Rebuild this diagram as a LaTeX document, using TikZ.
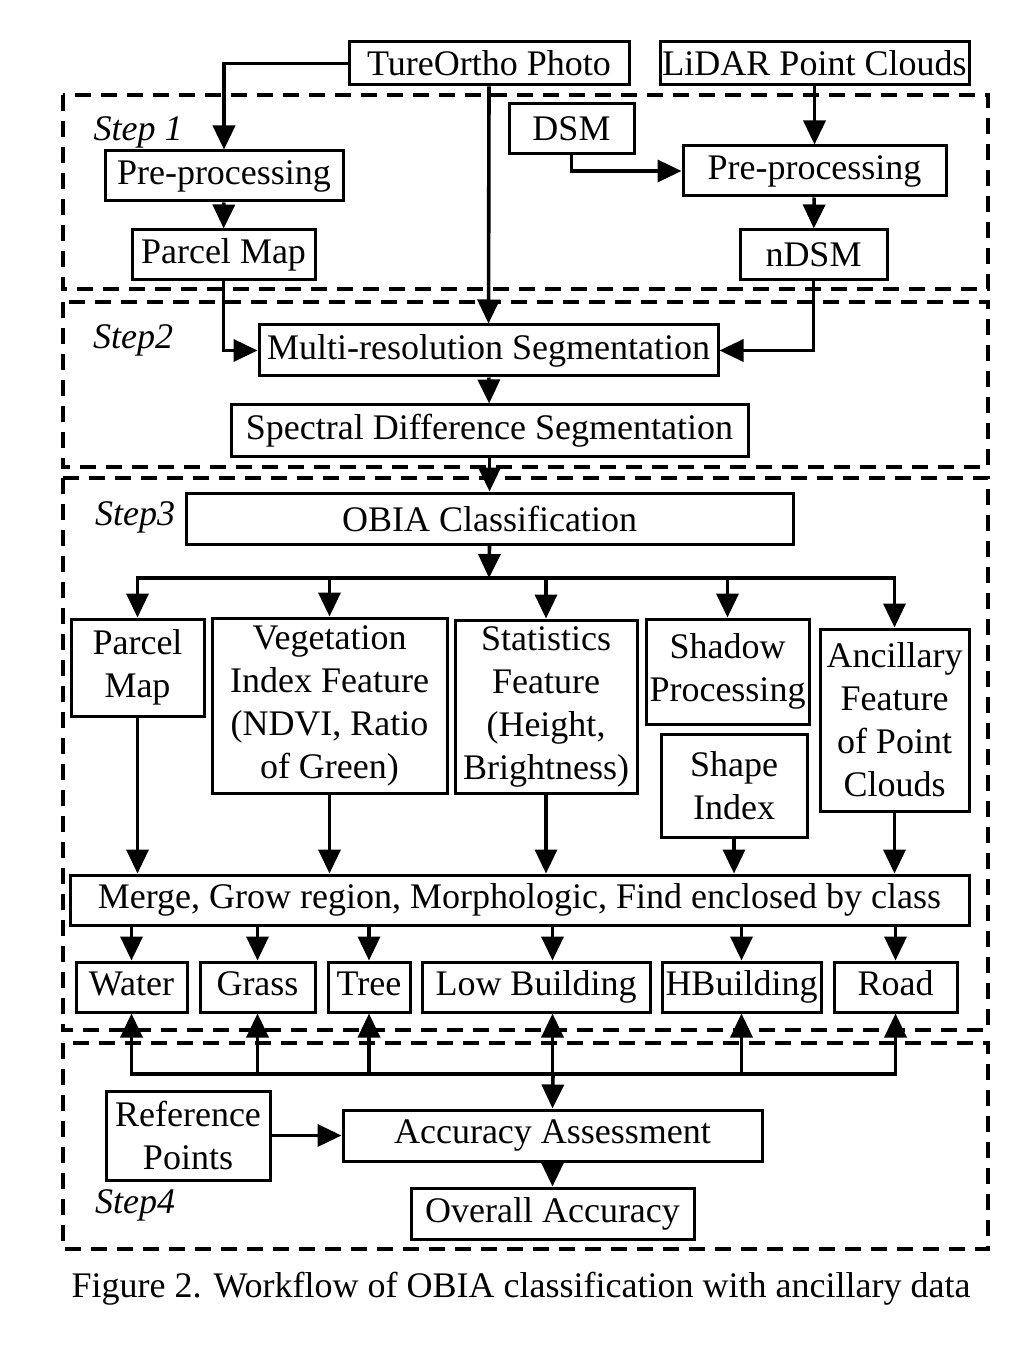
\documentclass[tikz,border=0pt]{standalone}
\usepackage{fontspec}
\setmainfont{Liberation Serif}
\usetikzlibrary{arrows.meta}
\begin{document}
\begin{tikzpicture}[x=0.5pt,y=-0.5pt,
    caixa/.style={draw,line width=1.5pt,inner sep=0pt,align=center,font=\fontsize{18}{21.5}\selectfont},
    tam/.style 2 args={minimum width=#1*0.5pt,minimum height=#2*0.5pt},
    classe/.style={caixa,text height=12.5pt,text depth=3.8pt},
    seta/.style={line width=1.8pt,-{Triangle[length=12pt,width=11pt]}},
    tracejado/.style={line width=1.6pt,dash pattern=on 8pt off 5pt},
    passo/.style={font=\fontsize{18}{21.5}\selectfont\itshape}]
    \fill[white] (0,0) rectangle (1026,1347);
    \useasboundingbox (0,0) rectangle (1026,1347);

    % Blocos tracejados
    \draw[tracejado] (63,95) rectangle (988,289);
    \draw[tracejado] (63,302) rectangle (988,467);
    \draw[tracejado] (63,478) rectangle (988,1030);
    \draw[tracejado] (63,1043) rectangle (988,1249);
    \node[passo] (passo1) at (138,132) {Step 1};
    \node[passo] (passo2) at (133,340) {Step2};
    \node[passo] (passo3) at (135,517) {Step3};
    \node[passo] (passo4) at (135,1205) {Step4};

    % Dados de entrada e passo 1
    \node[caixa,tam={280}{43}] (orto) at (489,63.5) {TureOrtho Photo};
    \node[caixa,tam={309}{43}] (lidar) at (814.5,63.5) {LiDAR Point Clouds};
    \node[caixa,tam={238}{50}] (prep1) at (224,176) {Pre-processing};
    \node[caixa,tam={183}{50}] (parcela1) at (223.5,255) {Parcel Map};
    \node[caixa,tam={125}{50}] (dsm) at (571.5,129) {DSM};
    \node[caixa,tam={263}{50}] (prep2) at (814.5,171) {Pre-processing};
    \node[caixa,tam={147}{50}] (ndsm) at (813.5,255) {nDSM};

    % Passo 2
    \node[caixa,tam={459}{51}] (multi) at (488.5,350.5) {Multi-resolution Segmentation};
    \node[caixa,tam={517}{51}] (espectral) at (489.5,430.5) {Spectral Difference Segmentation};

    % Passo 3
    \node[caixa,tam={607}{51}] (obia) at (489.5,518.5) {OBIA Classification};
    \node[caixa,tam={133}{97}] (parcela2) at (137.5,667.5) {Parcel\\Map};
    \node[caixa,tam={235}{175}] (veg) at (329.5,705.5) {Vegetation\\Index Feature\\(NDVI, Ratio\\of Green)};
    \node[caixa,tam={182}{173}] (estat) at (546,706.5) {Statistics\\Feature\\(Height,\\Brightness)};
    \node[caixa,tam={163}{105}] (sombra) at (727.5,671.5) {Shadow\\Processing};
    \node[caixa,tam={146}{103}] (forma) at (734,785.5) {Shape\\Index};
    \node[caixa,tam={149}{182}] (auxiliar) at (894.5,720) {Ancillary\\Feature\\of Point\\Clouds};
    \node[caixa,tam={899}{50}] (fusao) at (519.5,900) {Merge, Grow region, Morphologic, Find enclosed by class};
    \foreach \nome/\x/\w/\texto in {agua/131.5/111/Water, relva/257.5/115/Grass, arvore/369/82/Tree,
        baixo/536/228/Low Building, alto/741.5/159/HBuilding, estrada/895.5/123/Road}
        \node[classe,tam={\w}{50}] (\nome) at (\x,987) {\texto};

    % Passo 4
    \node[caixa,tam={164}{89}] (referencia) at (188,1135.5) {Reference\\Points};
    \node[caixa,tam={419}{51}] (avaliacao) at (552.5,1135.5) {Accuracy Assessment};
    \node[caixa,tam={283}{51}] (global) at (552.5,1213.5) {Overall Accuracy};

    % Legenda
    \node[font=\fontsize{18}{21.5}\selectfont] (legenda) at (521,1289) {Figure 2. Workflow of OBIA classification with ancillary data};

    % Setas do passo 1 e 2
    \draw[seta] (orto.west) -| (prep1.north);
    \draw[seta] (orto.south) -- (multi.north);
    \draw[seta] (lidar.south) -- (prep2.north);
    \draw[seta] (dsm.south) |- (prep2.west);
    \draw[seta] (prep1) -- (parcela1);
    \draw[seta] (prep2) -- (ndsm);
    \draw[seta] (parcela1.south) |- (multi.west);
    \draw[seta] (ndsm.south) |- (multi.east);
    \draw[seta] (multi) -- (espectral);
    \draw[seta] (espectral) -- (obia);

    % Setas do passo 3
    \coordinate (barra) at (489,578);
    \draw[seta] (obia.south) -- (barra);
    \draw[seta] (barra) -| (parcela2.north);
    \draw[seta] (barra) -| (auxiliar.north);
    \foreach \n in {veg,estat,sombra}
        \draw[seta] (\n.north |- barra) -- (\n.north);
    \foreach \n in {parcela2,veg,estat,forma,auxiliar}
        \draw[seta] (\n.south) -- (\n.south |- fusao.north);
    \foreach \n in {agua,relva,arvore,alto,estrada}
        \draw[seta] (\n.north |- fusao.south) -- (\n.north);
    \draw[seta] (avaliacao.north |- fusao.south) -- (avaliacao.north |- baixo.north);

    % Setas do passo 4
    \coordinate (barra2) at (553,1074);
    \draw[seta] (barra2) -| (agua.south);
    \draw[seta] (barra2) -| (estrada.south);
    \foreach \n in {relva,arvore,alto}
        \draw[seta] (\n.south |- barra2) -- (\n.south);
    \draw[seta] (avaliacao.north |- barra2) -- (avaliacao.north |- baixo.south);
    \draw[seta] (barra2) -- (avaliacao.north);
    \draw[seta] (referencia) -- (avaliacao);
    \draw[seta] (avaliacao) -- (global);
\end{tikzpicture}
\end{document}
